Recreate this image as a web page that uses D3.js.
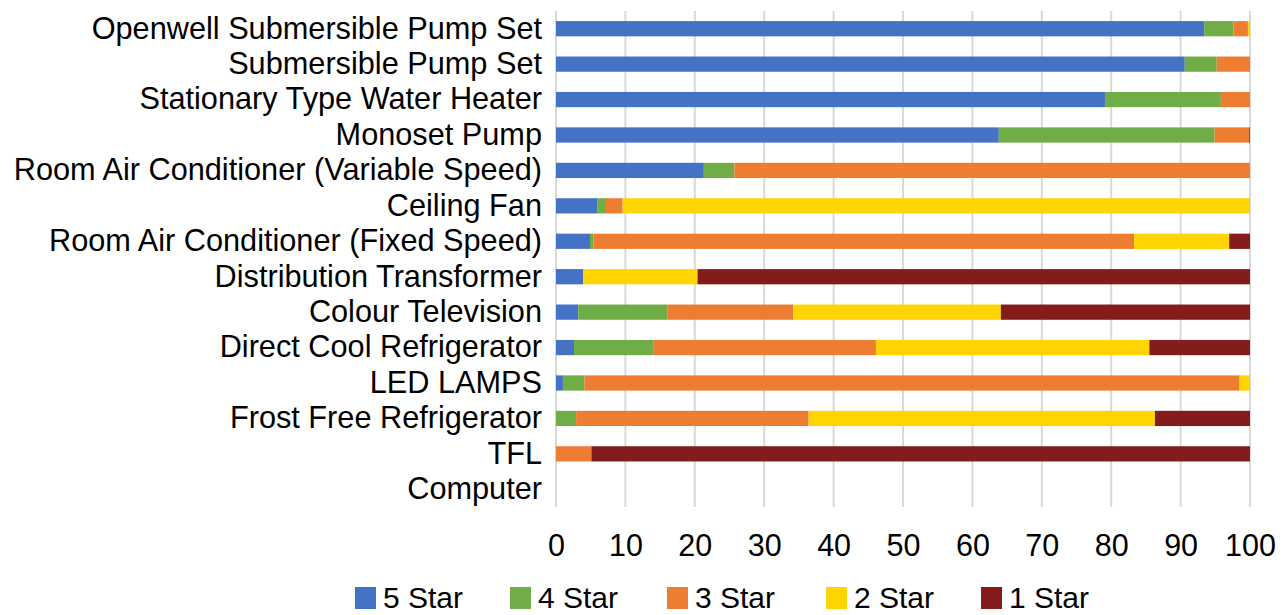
<!DOCTYPE html>
<html><head><meta charset="utf-8">
<script src="https://cdn.jsdelivr.net/npm/d3@7"></script>
<style>body{margin:0;background:#fff;} svg{display:block;font-family:"Liberation Sans",Arial,sans-serif;}</style>
</head><body>
<svg id="c" width="1288" height="615"></svg>
<script>
const categories = ["Openwell Submersible Pump Set","Submersible Pump Set","Stationary Type Water Heater","Monoset Pump","Room Air Conditioner (Variable Speed)","Ceiling Fan","Room Air Conditioner (Fixed Speed)","Distribution Transformer","Colour Television","Direct Cool Refrigerator","LED LAMPS","Frost Free Refrigerator","TFL","Computer"];
const seriesNames = ["5 Star","4 Star","3 Star","2 Star","1 Star"];
const star5 = [93.4,90.6,79.1,63.8,21.3,6.0,4.9,3.9,3.2,2.6,1.0,0,0,0];
const star4 = [4.2,4.6,16.7,31.1,4.4,1.2,0.5,0,12.9,11.4,3.1,2.9,0,0];
const star3 = [2.1,4.8,4.2,5.0,74.3,2.4,77.9,0,18.1,32.1,94.4,33.5,5.1,0];
const star2 = [0.3,0,0,0,0,90.4,13.7,16.5,29.9,39.4,1.5,49.9,0,0];
const star1 = [0,0,0,0.1,0,0,3.0,79.6,35.9,14.5,0,13.7,94.9,0];
const xTicks = [0,10,20,30,40,50,60,70,80,90,100];
const colors = ["#4472C4","#70AD47","#ED7D31","#FFD400","#841C1C"];

(function(){
const seriesVals = [star5,star4,star3,star2,star1];
const rows = categories.map((c,i)=>{const o={cat:c}; seriesNames.forEach((s,j)=>o[s]=seriesVals[j][i]); return o;});
const stack = d3.stack().keys(seriesNames)(rows);

const svg = d3.select("#c");
const pl = 556, pr = 1250, pt = 11, pb = 507;
const FONT = "Liberation Sans, Arial, sans-serif";
const x = d3.scaleLinear().domain([0,100]).range([pl,pr]);
const y = d3.scaleBand().domain(categories).range([pt,pb]).paddingInner(0.57).paddingOuter(0.285);

svg.append("g").selectAll("line").data(xTicks).join("line")
  .attr("x1",d=>x(d)).attr("x2",d=>x(d)).attr("y1",pt).attr("y2",pb)
  .attr("stroke","#d9d9d9").attr("stroke-width",2);

svg.append("g").selectAll("g").data(stack).join("g")
  .attr("fill",(d,i)=>colors[i])
  .selectAll("rect").data(d=>d).join("rect")
  .attr("x",d=>x(d[0])).attr("width",d=>Math.max(0,x(d[1])-x(d[0])))
  .attr("y",d=>y(d.data.cat)).attr("height",y.bandwidth());

const xa = svg.append("g").attr("transform",`translate(0,${pb})`)
  .call(d3.axisBottom(x).tickValues(xTicks).tickSize(0).tickPadding(27));
xa.select(".domain").remove();
xa.selectAll("text").attr("font-size",30.5).attr("fill","#000").attr("font-family",FONT);

const ya = svg.append("g").attr("transform",`translate(${pl-14},0)`)
  .call(d3.axisLeft(y).tickSize(0).tickPadding(0));
ya.select(".domain").remove();
ya.selectAll("text").attr("font-size",30.7).attr("fill","#000").attr("font-family",FONT);

const legX = [355,510,667,826,981];
const leg = svg.append("g").selectAll("g").data(seriesNames).join("g")
  .attr("transform",(d,i)=>`translate(${legX[i]},587)`);
leg.append("rect").attr("width",21).attr("height",22).attr("fill",(d,i)=>colors[i]);
leg.append("text").attr("x",28).attr("y",21).attr("font-size",30).attr("fill","#000").attr("font-family",FONT).text(d=>d);
})();
</script>
</body></html>
